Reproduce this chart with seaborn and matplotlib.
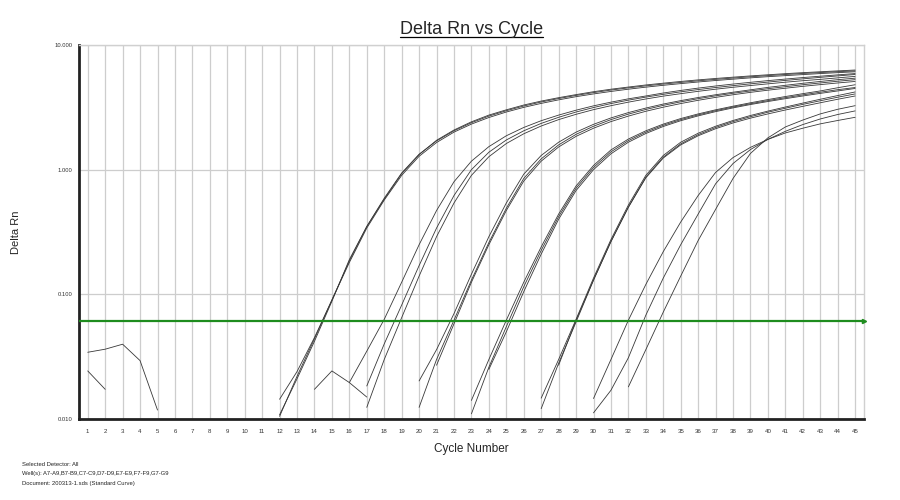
import pandas as pd
import matplotlib
matplotlib.use("Agg")
import matplotlib.pyplot as plt
from matplotlib.lines import Line2D
from matplotlib.ticker import NullLocator
import seaborn as sns

# cycle axis and threshold
cycles = list(range(1, 46))
threshold = 0.0615
y_ticks = [0.01, 0.1, 1, 10]
y_tick_labels = ["0.010", "0.100", "1.000", "10.000"]

# each well: first plotted cycle + Delta Rn values
a7_start, a7 = 12, [0.0108, 0.021, 0.042, 0.088, 0.19, 0.35, 0.58, 0.93, 1.32, 1.72, 2.08, 2.42,
                    2.74, 3.02, 3.3, 3.55, 3.78, 4.0, 4.22, 4.42, 4.6, 4.78, 4.94, 5.1, 5.25, 5.39,
                    5.52, 5.65, 5.77, 5.89, 6.0, 6.1, 6.2, 6.3]
a8_start, a8 = 12, [0.0105, 0.022, 0.044, 0.09, 0.185, 0.35, 0.59, 0.94, 1.33, 1.7, 2.05, 2.38,
                    2.69, 2.97, 3.24, 3.49, 3.72, 3.94, 4.15, 4.35, 4.53, 4.7, 4.86, 5.01, 5.16, 5.3,
                    5.43, 5.56, 5.68, 5.8, 5.91, 6.01, 6.11, 6.2]
a9_start, a9 = 12, [0.0144, 0.024, 0.045, 0.09, 0.18, 0.34, 0.57, 0.9, 1.28, 1.65, 2.0, 2.32,
                    2.62, 2.9, 3.16, 3.4, 3.63, 3.85, 4.05, 4.24, 4.42, 4.59, 4.75, 4.9, 5.05, 5.19,
                    5.32, 5.45, 5.57, 5.68, 5.79, 5.9, 6.0, 6.1]

b7_start, b7 = 16, [0.0196, 0.035, 0.063, 0.125, 0.25, 0.47, 0.8, 1.17, 1.53, 1.87, 2.18, 2.47,
                    2.74, 3.0, 3.25, 3.48, 3.7, 3.9, 4.12, 4.32, 4.51, 4.69, 4.86, 5.02, 5.18, 5.33,
                    5.48, 5.62, 5.76, 5.9]
b8_start, b8 = 17, [0.0184, 0.04, 0.082, 0.17, 0.34, 0.62, 1.0, 1.38, 1.73, 2.05, 2.35, 2.63,
                    2.9, 3.15, 3.39, 3.61, 3.82, 4.02, 4.21, 4.39, 4.56, 4.72, 4.88, 5.04, 5.2, 5.35,
                    5.5, 5.65, 5.8]
b9_start, b9 = 17, [0.0124, 0.03, 0.065, 0.14, 0.29, 0.54, 0.9, 1.27, 1.62, 1.94, 2.24, 2.52,
                    2.78, 3.03, 3.26, 3.48, 3.69, 3.89, 4.07, 4.25, 4.42, 4.58, 4.73, 4.88, 5.03,
                    5.17, 5.3, 5.45, 5.6]

c7_start, c7 = 20, [0.0202, 0.036, 0.07, 0.145, 0.29, 0.54, 0.92, 1.3, 1.66, 2.0, 2.31, 2.6,
                    2.87, 3.12, 3.36, 3.58, 3.79, 3.99, 4.18, 4.37, 4.57, 4.75, 4.93, 5.1, 5.27, 5.42]
c8_start, c8 = 20, [0.0124, 0.03, 0.062, 0.13, 0.26, 0.49, 0.85, 1.22, 1.58, 1.92, 2.23, 2.52,
                    2.79, 3.04, 3.28, 3.5, 3.71, 3.91, 4.1, 4.28, 4.46, 4.63, 4.8, 4.96, 5.12, 5.27]
c9_start, c9 = 21, [0.027, 0.058, 0.125, 0.25, 0.47, 0.81, 1.17, 1.52, 1.85, 2.15, 2.43, 2.69,
                    2.94, 3.17, 3.39, 3.6, 3.8, 3.99, 4.17, 4.34, 4.5, 4.66, 4.81, 4.96, 5.1]

d7_start, d7 = 23, [0.0141, 0.03, 0.062, 0.125, 0.24, 0.44, 0.74, 1.08, 1.44, 1.76, 2.05, 2.32,
                    2.57, 2.8, 3.02, 3.23, 3.44, 3.65, 3.86, 4.07, 4.28, 4.54, 4.8]
d8_start, d8 = 23, [0.011, 0.026, 0.055, 0.115, 0.225, 0.42, 0.71, 1.04, 1.39, 1.71, 2.0, 2.27,
                    2.52, 2.75, 2.97, 3.18, 3.38, 3.58, 3.78, 3.98, 4.18, 4.38, 4.56]
d9_start, d9 = 24, [0.025, 0.05, 0.105, 0.21, 0.4, 0.68, 1.0, 1.34, 1.66, 1.95, 2.22, 2.47,
                    2.7, 2.92, 3.13, 3.33, 3.52, 3.71, 3.9, 4.09, 4.28, 4.48]

e7_start, e7 = 27, [0.0147, 0.03, 0.063, 0.135, 0.275, 0.52, 0.9, 1.3, 1.66, 1.96, 2.23, 2.48,
                    2.72, 2.95, 3.18, 3.42, 3.67, 3.93, 4.2]
e8_start, e8 = 27, [0.0121, 0.028, 0.06, 0.13, 0.265, 0.5, 0.87, 1.26, 1.61, 1.91, 2.18, 2.43,
                    2.66, 2.89, 3.11, 3.34, 3.57, 3.81, 4.05]
e9_start, e9 = 28, [0.027, 0.062, 0.13, 0.265, 0.5, 0.86, 1.24, 1.58, 1.87, 2.13, 2.37, 2.59,
                    2.8, 3.01, 3.22, 3.44, 3.67, 3.9]

f7_start, f7 = 30, [0.0146, 0.03, 0.062, 0.12, 0.22, 0.38, 0.62, 0.95, 1.25, 1.51, 1.75, 1.97,
                    2.15, 2.33, 2.48, 2.63]
f8_start, f8 = 30, [0.0112, 0.017, 0.031, 0.068, 0.135, 0.25, 0.44, 0.77, 1.12, 1.45, 1.75, 2.03,
                    2.3, 2.55, 2.77, 2.96]
f9_start, f9 = 32, [0.0181, 0.036, 0.072, 0.14, 0.27, 0.48, 0.85, 1.35, 1.8, 2.2, 2.5, 2.8,
                    3.05, 3.26]

g7_start, g7 = 1, [0.0343, 0.0363, 0.0398, 0.0294, 0.0118]
g8_start, g8 = 1, [0.0243, 0.0173]
g9_start, g9 = 14, [0.0173, 0.0243, 0.0196, 0.015]

wells = {
    "A7": (a7_start, a7), "A8": (a8_start, a8), "A9": (a9_start, a9),
    "B7": (b7_start, b7), "B8": (b8_start, b8), "B9": (b9_start, b9),
    "C7": (c7_start, c7), "C8": (c8_start, c8), "C9": (c9_start, c9),
    "D7": (d7_start, d7), "D8": (d8_start, d8), "D9": (d9_start, d9),
    "E7": (e7_start, e7), "E8": (e8_start, e8), "E9": (e9_start, e9),
    "F7": (f7_start, f7), "F8": (f8_start, f8), "F9": (f9_start, f9),
    "G7": (g7_start, g7), "G8": (g8_start, g8), "G9": (g9_start, g9),
}

rows = []
for well, (start, vals) in wells.items():
    for i, v in enumerate(vals):
        rows.append({"well": well, "cycle": start + i, "delta_rn": v})
df = pd.DataFrame(rows)

sns.set_style("white")
plt.rcParams["font.family"] = ["Liberation Sans", "DejaVu Sans"]

fig = plt.figure(figsize=(9, 5), dpi=100)
ax = fig.add_axes([0.0878, 0.162, 0.872, 0.748])

sns.lineplot(data=df, x="cycle", y="delta_rn", units="well", estimator=None,
             color="#383838", lw=0.6, legend=False, ax=ax, zorder=2)

ax.axhline(threshold, color="#1e8c1e", lw=1.6, zorder=3)
ax.plot([45.5], [threshold], marker=">", ms=3, color="#1e8c1e", clip_on=False, zorder=4)

ax.set_yscale("log")
ax.set_ylim(0.01, 10)
ax.set_xlim(0.5, 45.5)
ax.set_xticks(cycles)
ax.set_xticklabels([str(c) for c in cycles])
ax.set_yticks(y_ticks)
ax.set_yticklabels(y_tick_labels)
ax.yaxis.set_minor_locator(NullLocator())
ax.grid(True, color="#cdcdcd", lw=0.9)
ax.set_axisbelow(True)
ax.tick_params(axis="x", length=0, labelsize=4.4, pad=7, colors="#333333")
ax.tick_params(axis="y", length=0, labelsize=4.2, pad=5, colors="#333333")

for side in ["left", "bottom"]:
    ax.spines[side].set_color("#222222")
    ax.spines[side].set_linewidth(2)
for side in ["top", "right"]:
    ax.spines[side].set_color("#d0d0d0")
    ax.spines[side].set_linewidth(1)

ax.set_xlabel("Cycle Number", fontsize=8.5)
ax.set_ylabel("Delta Rn", fontsize=8)
ax.xaxis.set_label_coords(0.5, -0.065)
ax.yaxis.set_label_coords(-0.074, 0.5)

title = fig.text(0.524, 0.942, "Delta Rn vs Cycle", ha="center", va="center", fontsize=13)
fig.canvas.draw()
bb = title.get_window_extent().transformed(fig.transFigure.inverted())
fig.add_artist(Line2D([bb.x0, bb.x1], [bb.y0 + 0.002, bb.y0 + 0.002], color="black", lw=0.9))

footer = ["Selected Detector: All",
          "Well(s): A7-A9,B7-B9,C7-C9,D7-D9,E7-E9,F7-F9,G7-G9",
          "Document: 200313-1.sds (Standard Curve)"]
for i, line in enumerate(footer):
    fig.text(0.024, 0.070 - i * 0.018, line, fontsize=4.2, va="center", color="#222222")

fig.savefig("out.png", dpi=100)
